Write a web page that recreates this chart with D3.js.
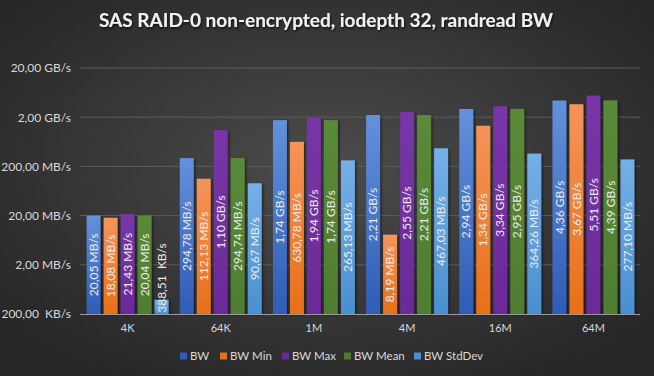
<!DOCTYPE html>
<html>
<head>
<meta charset="utf-8">
<script src="https://cdn.jsdelivr.net/npm/d3@7"></script>
<style>
  body { margin: 0; background: #262626; }
  svg { display: block; font-family: Lato, "Open Sans", sans-serif; }
</style>
</head>
<body>
<div id="chart"></div>
<script>
// values in MB/s
var categories = ["4K", "64K", "1M", "4M", "16M", "64M"];
var seriesNames = ["BW", "BW Min", "BW Max", "BW Mean", "BW StdDev"];
var bw       = [20.05, 294.78, 1740, 2210, 2940, 4360];
var bwMin    = [18.08, 112.13, 630.78, 8.19, 1340, 3670];
var bwMax    = [21.43, 1100, 1940, 2550, 3340, 5510];
var bwMean   = [20.04, 294.74, 1740, 2210, 2950, 4390];
var bwStdDev = [0.38851, 90.67, 265.13, 467.03, 364.26, 277.10];
var tickValues = [0.2, 2, 20, 200, 2000, 20000];
var tickLabels = ["200,00\u00a0 KB/s", "2,00 MB/s", "20,00 MB/s", "200,00 MB/s", "2,00 GB/s", "20,00 GB/s"];

var seriesValues = [bw, bwMin, bwMax, bwMean, bwStdDev];
var colors = [
  ["#6391dc", "#2f5cb6"],
  ["#f59459", "#e86f18"],
  ["#7836a8", "#6b2a98"],
  ["#5a8a38", "#4f7d30"],
  ["#75b0e6", "#4a8fd0"]
];

var W = 654, H = 376;
var plot = { left: 80, right: 640, top: 68, bottom: 314 };

var svg = d3.select("#chart").append("svg")
  .attr("width", W).attr("height", H);

var defs = svg.append("defs");
var bg = defs.append("radialGradient").attr("id", "bg")
  .attr("cx", "50%").attr("cy", "45%").attr("r", "65%");
bg.append("stop").attr("offset", "0%").attr("stop-color", "#4c4c4c");
bg.append("stop").attr("offset", "100%").attr("stop-color", "#262626");

colors.forEach(function(c, i) {
  var g = defs.append("linearGradient").attr("id", "g" + i)
    .attr("x1", 0).attr("y1", 0).attr("x2", 0).attr("y2", 1);
  g.append("stop").attr("offset", "0%").attr("stop-color", c[0]);
  g.append("stop").attr("offset", "100%").attr("stop-color", c[1]);
});

var shadow = defs.append("filter").attr("id", "shadow")
  .attr("x", "-20%").attr("y", "-20%").attr("width", "160%").attr("height", "140%");
shadow.append("feDropShadow").attr("dx", 1.5).attr("dy", 1).attr("stdDeviation", 1.2)
  .attr("flood-color", "#000").attr("flood-opacity", 0.5);

var titleShadow = defs.append("filter").attr("id", "tshadow");
titleShadow.append("feDropShadow").attr("dx", 1).attr("dy", 1.5).attr("stdDeviation", 1)
  .attr("flood-color", "#000").attr("flood-opacity", 0.7);

svg.append("rect").attr("width", W).attr("height", H).attr("fill", "url(#bg)");

// title
svg.append("text")
  .attr("x", 326).attr("y", 27)
  .attr("text-anchor", "middle")
  .attr("fill", "#f2f2f2")
  .attr("font-size", 19)
  .attr("font-weight", "bold")
  .attr("filter", "url(#tshadow)")
  .text("SAS RAID-0 non-encrypted, iodepth 32, randread BW");

var y = d3.scaleLog().domain([0.2, 20000]).range([plot.bottom, plot.top]);
var x0 = d3.scaleBand().domain(categories).range([plot.left + 1, plot.right]);
var x1 = d3.scaleBand().domain(seriesNames).range([0, x0.bandwidth()])
  .paddingInner(0.18).paddingOuter(0.33);

// gridlines
svg.append("g").selectAll("line").data(tickValues.slice(1)).join("line")
  .attr("x1", plot.left).attr("x2", plot.right)
  .attr("y1", function(d) { return y(d); }).attr("y2", function(d) { return y(d); })
  .attr("stroke", "#5c5c5c").attr("stroke-width", 1);

// y axis labels
var yAxis = d3.axisLeft(y).tickValues(tickValues)
  .tickFormat(function(d, i) { return tickLabels[i]; })
  .tickSize(0).tickPadding(9);
var ya = svg.append("g").attr("transform", "translate(" + plot.left + ",0)").call(yAxis);
ya.select(".domain").remove();
ya.selectAll("text").attr("fill", "#d9d9d9").attr("font-size", 12)
  .attr("font-family", "Lato, 'Open Sans', sans-serif");

function fmt(v) {
  if (v >= 1000) return d3.format(".2f")(v / 1000).replace(".", ",") + " GB/s";
  if (v >= 1) return d3.format(".2f")(v).replace(".", ",") + " MB/s";
  return d3.format(".2f")(v * 1000).replace(".", ",") + "\u00a0 KB/s";
}

// bars
var groups = svg.append("g").selectAll("g").data(categories).join("g")
  .attr("transform", function(d) { return "translate(" + x0(d) + ",0)"; });

var cells = groups.selectAll("g").data(function(c, ci) {
  return seriesNames.map(function(s, si) {
    return { series: s, si: si, value: seriesValues[si][ci] };
  });
}).join("g");

cells.append("rect")
  .attr("x", function(d) { return x1(d.series); })
  .attr("width", x1.bandwidth())
  .attr("y", function(d) { return y(d.value); })
  .attr("height", function(d) { return plot.bottom - y(d.value); })
  .attr("fill", function(d) { return "url(#g" + d.si + ")"; })
  .attr("filter", "url(#shadow)");

cells.append("text")
  .attr("transform", function(d) {
    var cx = x1(d.series) + x1.bandwidth() / 2;
    var cy = (y(d.value) + plot.bottom) / 2;
    var half = 35;
    if (cy + half > plot.bottom - 1) cy = plot.bottom - 1 - half;
    return "translate(" + cx + "," + cy + ") rotate(-90)";
  })
  .attr("text-anchor", "middle")
  .attr("dy", "0.35em")
  .attr("fill", "#ececec")
  .attr("font-size", 12)
  .text(function(d) { return fmt(d.value); });

// x axis
svg.append("line")
  .attr("x1", plot.left).attr("x2", plot.right)
  .attr("y1", plot.bottom + 0.5).attr("y2", plot.bottom + 0.5)
  .attr("stroke", "#9a9a9a");

var xAxis = d3.axisBottom(x0).tickSize(0).tickPadding(10);
var xa = svg.append("g").attr("transform", "translate(0," + plot.bottom + ")").call(xAxis);
xa.select(".domain").remove();
xa.selectAll("text").attr("fill", "#d9d9d9").attr("font-size", 11)
  .attr("font-family", "Lato, 'Open Sans', sans-serif");

// legend
var legendX = [180, 220, 282, 344, 414];
var legend = svg.append("g").selectAll("g").data(seriesNames).join("g")
  .attr("transform", function(d, i) { return "translate(" + legendX[i] + ",356)"; });
legend.append("rect").attr("x", 0).attr("y", -3.5).attr("width", 7).attr("height", 7)
  .attr("fill", function(d, i) { return colors[i][1]; });
legend.append("text").attr("x", 10).attr("dy", "0.35em")
  .attr("fill", "#d9d9d9").attr("font-size", 11.5)
  .text(function(d) { return d; });
</script>
</body>
</html>
